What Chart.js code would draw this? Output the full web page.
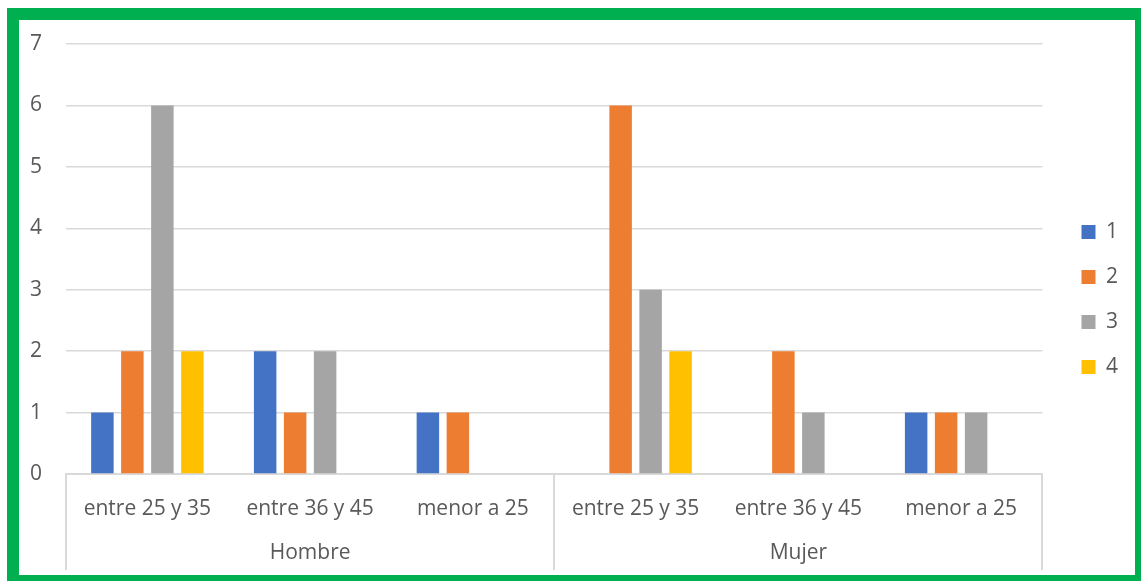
<!DOCTYPE html>
<html>
<head>
<meta charset="utf-8">
<script src="https://cdn.jsdelivr.net/npm/chart.js@4/dist/chart.umd.min.js"></script>
<style>
  html, body { margin: 0; padding: 0; background: #ffffff; overflow: hidden; }
  #wrap { position: relative; width: 1141px; height: 581px; overflow: hidden; }
  #frame {
    position: absolute; left: 7px; top: 8px;
    width: 1140px; height: 579px;
    border: 12px solid #00B050; box-sizing: border-box;
  }
  #chart { position: absolute; left: 0; top: 0; }
</style>
</head>
<body>
<div id="wrap">
  <div id="frame"></div>
  <canvas id="chart" width="1141" height="581"></canvas>
</div>
<script>
// Age brackets, repeated under each sex
const categories = ['entre 25 y 35', 'entre 36 y 45', 'menor a 25',
                    'entre 25 y 35', 'entre 36 y 45', 'menor a 25'];
// Outer grouping of the categories
const groups = ['Hombre', 'Mujer'];
const groupSize = 3;

// Series names and counts per category
const seriesNames = ['1', '2', '3', '4'];
const serie1 = [1, 2, 1, 0, 0, 1];
const serie2 = [2, 1, 1, 6, 2, 1];
const serie3 = [6, 2, 0, 3, 1, 1];
const serie4 = [2, 0, 0, 2, 0, 0];

// Value axis ticks
const yTicks = [0, 1, 2, 3, 4, 5, 6, 7];

const colors = ['#4472C4', '#ED7D31', '#A5A5A5', '#FFC000'];
const textColor = '#595959';
const lineColor = '#D9D9D9';
const FONT = '"Open Sans", "Noto Sans", sans-serif';
const FONT_SIZE = 21;

const seriesValues = [serie1, serie2, serie3, serie4];

// Second row of the category axis: group names and separators
const groupAxis = {
  id: 'groupAxis',
  afterDraw(chart) {
    const x = chart.scales.x;
    const ctx = chart.ctx;
    const n = categories.length;
    const step = (x.right - x.left) / n;
    const top = x.top;
    const bottom = top + 96;
    ctx.save();
    ctx.strokeStyle = lineColor;
    ctx.lineWidth = 2;
    for (let g = 0; g <= groups.length; g++) {
      const px = Math.round(x.left + g * groupSize * step);
      ctx.beginPath();
      ctx.moveTo(px, top);
      ctx.lineTo(px, bottom);
      ctx.stroke();
    }
    ctx.fillStyle = textColor;
    ctx.font = FONT_SIZE + 'px ' + FONT;
    ctx.textAlign = 'center';
    ctx.textBaseline = 'middle';
    groups.forEach((name, g) => {
      const cx = x.left + (g * groupSize + groupSize / 2) * step;
      ctx.fillText(name, cx, top + 79);
    });
    ctx.restore();
  }
};

new Chart(document.getElementById('chart'), {
  type: 'bar',
  data: {
    labels: categories,
    datasets: seriesNames.map((name, i) => ({
      label: name,
      data: seriesValues[i],
      backgroundColor: colors[i],
      borderWidth: 0,
      categoryPercentage: 0.737,
      barPercentage: 0.75
    }))
  },
  options: {
    responsive: false,
    animation: false,
    layout: { padding: { top: 24, bottom: 6, left: 0, right: 13 } },
    plugins: {
      tooltip: { enabled: false },
      legend: {
        position: 'right',
        align: 'center',
        labels: {
          boxWidth: 14,
          boxHeight: 14,
          padding: 24,
          color: textColor,
          font: { family: FONT, size: FONT_SIZE }
        }
      }
    },
    scales: {
      x: {
        type: 'category',
        grid: { display: false, drawTicks: false },
        border: { display: true, color: lineColor, width: 2 },
        ticks: {
          color: textColor,
          font: { family: FONT, size: FONT_SIZE },
          padding: 22,
          maxRotation: 0,
          autoSkip: false
        },
        afterFit(s) { s.height = 101; }
      },
      topSpace: {
        type: 'linear',
        axis: 'x',
        position: 'top',
        grid: { display: false, drawTicks: false },
        border: { display: false },
        ticks: { display: false },
        afterFit(s) { s.height = 20; }
      },
      y: {
        min: 0,
        max: 7,
        afterBuildTicks(s) { s.ticks = yTicks.map(v => ({ value: v })); },
        grid: { color: lineColor, lineWidth: 1.5, drawTicks: false },
        border: { display: false },
        ticks: {
          color: textColor,
          font: { family: FONT, size: FONT_SIZE },
          padding: 24
        },
        afterFit(s) { s.width = 66; }
      },
      rightSpace: {
        type: 'linear',
        axis: 'y',
        position: 'right',
        grid: { display: false, drawTicks: false },
        border: { display: false },
        ticks: { display: false },
        afterFit(s) { s.width = 15; }
      }
    }
  },
  plugins: [groupAxis]
});
</script>
</body>
</html>
